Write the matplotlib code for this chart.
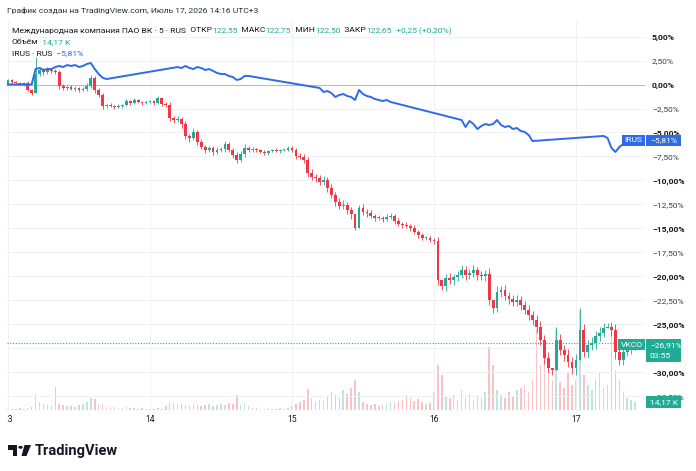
import numpy as np
import matplotlib.pyplot as plt
from matplotlib.patches import Rectangle, Polygon, Circle
from matplotlib.transforms import Bbox, blended_transform_factory

plt.rcParams['font.family'] = ['Roboto', 'DejaVu Sans']

W, H = 696, 471

# ---- данные (в % от начала графика) ----
day_labels = ['13', '14', '15', '16', '17']
bars_per_day = 36
main_session = (7, 25)   # бары основной сессии внутри дня (индекс IRUS)

vk_close = [
    # 13
    0.47, 0.26, 0.16, 0.05, 0.16, -0.57, -0.89, 1.10, 1.50, 1.30, 1.50, 1.40,
    1.30, -0.16, -0.36, -0.26, -0.47, -0.36, -0.57, -0.47, -0.16, 0.68, -0.57, -1.09,
    -2.24, -2.14, -2.24, -2.34, -2.24, -2.14, -1.72, -1.93, -1.61, -1.82, -1.93, -1.82,
    # 14
    -1.72, -1.93, -1.41, -2.03, -2.14, -3.49, -3.70, -3.59, -4.11, -5.36, -5.57, -4.95,
    -5.99, -6.51, -6.82, -6.61, -7.03, -6.82, -6.72, -6.20, -6.82, -7.34, -7.86, -7.24,
    -6.61, -6.82, -6.72, -6.82, -7.03, -7.14, -6.93, -6.82, -6.93, -6.82, -6.82, -6.61,
    # 15
    -6.82, -7.45, -7.55, -7.86, -9.22, -9.64, -9.74, -10.16, -9.95, -10.78, -11.51, -12.24,
    -12.66, -12.55, -13.07, -13.49, -14.95, -12.86, -13.28, -13.39, -13.70, -13.91, -13.91, -14.01,
    -13.80, -13.70, -14.22, -14.53, -14.64, -14.74, -14.95, -15.36, -15.68, -16.00, -16.00, -16.20,
    # 16
    -16.30, -20.36, -20.99, -20.16, -20.36, -20.05, -19.84, -19.32, -19.84, -19.64, -19.32, -19.84,
    -19.95, -19.74, -22.45, -23.28, -21.61, -21.41, -22.03, -22.34, -22.66, -22.45, -22.97, -23.49,
    -24.01, -24.53, -25.26, -26.61, -28.49, -29.53, -29.74, -26.61, -27.66, -28.18, -28.91, -29.53,
    # 17
    -28.70, -25.57, -27.86, -27.14, -26.93, -26.20, -25.89, -25.36, -25.26, -25.57, -27.86, -28.70,
    -27.86, -27.66, -27.34, -26.91,
]
vk_first_open = 0.0

# тени свечей: выше тела / ниже тела, %
vk_wick_up = [
    0.1, 0.1, 0.1, 0.1, 0.1, 0.2, 0.1, 0.3, 0.3, 0.2, 0.3, 0.2, 0.2, 0.2, 0.2, 0.1, 0.2, 0.2,
    0.1, 0.2, 0.3, 0.3, 0.2, 0.2, 0.2, 0.1, 0.2, 0.1, 0.2, 0.1, 0.2, 0.1, 0.2, 0.1, 0.1, 0.1,
    0.1, 0.1, 0.2, 0.1, 0.2, 0.3, 0.2, 0.3, 0.2, 0.3, 0.2, 0.4, 0.2, 0.3, 0.2, 0.2, 0.2, 0.3,
    0.2, 0.3, 0.2, 0.2, 0.3, 0.3, 0.4, 0.2, 0.2, 0.1, 0.1, 0.2, 0.1, 0.1, 0.2, 0.1, 0.1, 0.2,
    0.2, 0.2, 0.3, 0.3, 0.3, 0.4, 0.3, 0.3, 0.4, 0.3, 0.4, 0.3, 0.4, 0.5, 0.3, 0.3, 0.3, 0.3,
    0.4, 0.3, 0.3, 0.2, 0.3, 0.2, 0.3, 0.3, 0.2, 0.3, 0.2, 0.3, 0.2, 0.3, 0.2, 0.2, 0.2, 0.2,
    0.2, 0.4, 0.5, 0.4, 0.5, 0.3, 0.4, 0.5, 0.4, 0.4, 0.5, 0.3, 0.4, 0.4, 0.6, 0.5, 0.6, 0.4,
    0.5, 0.4, 0.4, 0.5, 0.4, 0.4, 0.5, 0.4, 0.5, 0.6, 0.5, 0.6, 0.5, 0.8, 0.6, 0.5, 0.6, 0.5,
    0.6, 0.8, 0.6, 0.5, 0.6, 0.5, 0.6, 0.5, 0.6, 0.5, 0.6, 0.5, 0.4, 0.5, 0.4, 0.3,
]
vk_wick_dn = [
    0.1, 0.2, 0.1, 0.1, 0.2, 0.1, 0.2, 0.2, 0.2, 0.3, 0.2, 0.2, 0.2, 0.3, 0.2, 0.2, 0.1, 0.2,
    0.2, 0.1, 0.2, 0.2, 0.3, 0.2, 0.3, 0.2, 0.1, 0.2, 0.1, 0.2, 0.1, 0.2, 0.1, 0.1, 0.2, 0.1,
    0.1, 0.2, 0.1, 0.2, 0.2, 0.3, 0.3, 0.2, 0.4, 0.3, 0.4, 0.2, 0.3, 0.2, 0.3, 0.2, 0.3, 0.2,
    0.2, 0.3, 0.2, 0.3, 0.3, 0.2, 0.3, 0.2, 0.2, 0.2, 0.1, 0.2, 0.2, 0.1, 0.1, 0.2, 0.1, 0.1,
    0.2, 0.3, 0.2, 0.3, 0.4, 0.3, 0.4, 0.3, 0.3, 0.4, 0.3, 0.4, 0.3, 0.3, 0.4, 0.5, 0.3, 0.3,
    0.3, 0.4, 0.2, 0.3, 0.2, 0.3, 0.2, 0.2, 0.3, 0.2, 0.3, 0.2, 0.3, 0.2, 0.3, 0.2, 0.2, 0.2,
    0.3, 0.5, 0.4, 0.5, 0.4, 0.5, 0.4, 0.3, 0.5, 0.4, 0.4, 0.5, 0.4, 0.5, 0.5, 0.6, 0.4, 0.5,
    0.4, 0.5, 0.4, 0.4, 0.5, 0.4, 0.5, 0.5, 0.6, 0.5, 0.6, 0.5, 0.6, 0.7, 0.5, 0.6, 0.5, 0.6,
    0.7, 0.6, 0.5, 0.6, 0.5, 0.6, 0.5, 0.4, 0.5, 0.6, 0.7, 0.5, 0.5, 0.4, 0.4, 0.3,
]
# отдельные длинные тени
vk_spike_bar = [7, 88, 89, 110, 123, 138, 139, 145, 152]
vk_spike_high = [2.86, -13.49, -12.55, -20.36, -22.45, -29.53, -25.26, -23.28, -24.84]
vk_spike_low = [-0.89, -15.16, -14.95, -21.40, -23.80, -30.30, -29.74, -28.70, -25.36]

vk_volume = [  # тыс.
    1.8, 1.8, 1.8, 3.5, 1.8, 3.5, 5.3, 28.3, 14.2, 10.6, 8.9, 7.1,
    40.7, 10.6, 8.9, 7.1, 7.1, 5.3, 8.9, 10.6, 14.2, 21.2, 19.5, 8.9,
    10.6, 5.3, 3.5, 5.3, 3.5, 3.5, 5.3, 3.5, 3.5, 1.8, 3.5, 1.8,
    1.8, 1.8, 3.5, 1.8, 7.1, 14.2, 12.4, 8.9, 10.6, 8.9, 7.1, 10.6,
    8.9, 7.1, 8.9, 10.6, 7.1, 8.9, 10.6, 8.9, 12.4, 10.6, 26.6, 8.9,
    12.4, 7.1, 3.5, 3.5, 1.8, 1.8, 3.5, 1.8, 1.8, 3.5, 1.8, 3.5,
    7.1, 10.6, 14.2, 17.7, 37.2, 21.2, 14.2, 17.7, 15.9, 24.8, 31.9, 26.6,
    21.2, 35.4, 28.3, 38.9, 53.1, 31.9, 14.2, 10.6, 8.9, 10.6, 7.1, 8.9,
    10.6, 14.2, 12.4, 15.9, 17.7, 26.6, 21.2, 15.9, 19.5, 14.2, 10.6, 12.4,
    31.9, 79.7, 62.0, 24.8, 21.2, 26.6, 17.7, 35.4, 21.2, 28.3, 17.7, 24.8,
    21.2, 31.9, 111.5, 79.7, 35.4, 26.6, 21.2, 31.9, 24.8, 35.4, 38.9, 44.3,
    31.9, 53.1, 143.4, 79.7, 90.3, 62.0, 53.1, 143.4, 49.6, 38.9, 67.3, 44.3,
    53.1, 177.0, 62.0, 44.3, 35.4, 53.1, 67.3, 38.9, 44.3, 138.0, 70.8, 53.1,
    31.9, 21.2, 17.7, 14.17,
]

irus_day13 = [1.61, 1.72, 1.51, 1.61, 1.61, 1.82, 1.93, 1.82, 2.03, 1.93, 2.03, 1.82, 1.93, 2.14, 2.24, 1.61, 1.09, 0.70, 0.57]
irus_day14 = [1.82, 1.72, 1.93, 1.72, 1.61, 1.82, 1.72, 1.51, 1.61, 1.41, 1.20, 1.09, 1.09, 0.89, 0.78, 0.47, 0.57, 0.89, 0.89]
irus_day15 = [-0.36, -0.78, -0.68, -0.89, -1.30, -1.09, -0.99, -1.20, -1.30, -1.61, -0.57, -0.99, -1.20, -1.30, -1.51, -1.61, -1.72, -1.61, -1.82]
irus_day16 = [-3.70, -4.43, -3.80, -4.11, -4.64, -4.32, -4.11, -4.22, -4.11, -3.70, -4.22, -4.43, -4.32, -4.64, -4.53, -4.84, -4.95, -5.26, -5.89]
irus_day17 = [-5.36, -5.57, -6.61, -7.03, -6.51, -6.20, -5.99, -5.89, -5.81]
irus_start = 0.0

last_vk = -26.91
last_irus = -5.81
last_volume = 14.17

GREEN = '#22ab94'
RED = '#f23645'
BLUE = '#2e6be6'
DARK = '#131722'
GRID = '#eef0f5'
FS = 6.1

# ---- подготовка ----
close = np.array(vk_close)
opens = np.r_[vk_first_open, close[:-1]]
x = np.arange(len(close))
up = close >= opens
candle_col = np.where(up, GREEN, RED)
high = np.maximum(opens, close) + np.array(vk_wick_up)
low = np.minimum(opens, close) - np.array(vk_wick_dn)
high[vk_spike_bar] = vk_spike_high
low[vk_spike_bar] = vk_spike_low

irus_x = [0, main_session[0] - 1]
irus_y = [irus_start, irus_start]
for d, vals in enumerate([irus_day13, irus_day14, irus_day15, irus_day16, irus_day17]):
    start = d * bars_per_day + main_session[0]
    irus_x += list(range(start, start + len(vals)))
    irus_y += vals

fig = plt.figure(figsize=(W / 100, H / 100), dpi=100)
rect = [7 / W, 1 - 410 / H, 638 / W, 390 / H]
xlim = (-0.25, 161.5)

# объём
axv = fig.add_axes(rect)
axv.set_xlim(*xlim)
axv.set_ylim(0, 690)
axv.axis('off')
axv.bar(x, vk_volume, width=0.4, color=candle_col, alpha=0.3, lw=0)

# цена
ax = fig.add_axes(rect)
ax.patch.set_visible(False)
ax.set_xlim(*xlim)
ax.set_ylim(-33.91, 6.72)
for s in ax.spines.values():
    s.set_visible(False)

yt = np.arange(5, -33, -2.5)
ax.set_yticks(yt)
ax.yaxis.tick_right()
ax.set_yticklabels(['' if v == -27.5 else f'{v:.2f}'.replace('.', ',').replace('-', '\u2212') + '%'
                    for v in yt])
ax.tick_params(axis='y', length=0, pad=5, labelsize=6.1, labelcolor=DARK)
for v, lbl in zip(yt, ax.get_yticklabels()):
    if v % 5 == 0:
        lbl.set_fontweight('bold')
    else:
        lbl.set_color('#3b3f4a')
ax.set_xticks([])
for v in yt:
    ax.axhline(v, color=GRID, lw=0.6, zorder=0)
for d in range(len(day_labels)):
    ax.axvline(d * bars_per_day, color=GRID, lw=0.6, zorder=0)

ax.axhline(0, color='#b8bbc4', lw=0.8, zorder=1)
ax.axhline(last_vk, color=GREEN, lw=0.8, ls=(0, (1, 1.5)), zorder=1)

# свечи
ax.vlines(x, low, high, colors=candle_col, lw=0.6, zorder=2)
ax.bar(x, np.maximum(np.abs(close - opens), 0.08), bottom=np.minimum(opens, close),
       width=0.7, color=candle_col, lw=0, zorder=2)

# IRUS
ax.plot(irus_x, irus_y, color=BLUE, lw=1.4, zorder=3, solid_joinstyle='round')

# подписи дней
tr = blended_transform_factory(ax.transData, fig.transFigure)
clip = Bbox.from_extents(7, 0, W, H)
for d, lab in enumerate(day_labels):
    t = ax.text(d * bars_per_day, 1 - 420 / H, lab, transform=tr, ha='center', va='center',
                fontsize=6.2, color=DARK)
    t.set_clip_on(True)
    t.set_clip_box(clip)


# ---- метки справа ----
def ypx(axis, v):
    return H - axis.transData.transform((0, v))[1]


def box(x0, y0, x1, y1, color):
    fig.add_artist(Rectangle((x0 / W, 1 - y1 / H), (x1 - x0) / W, (y1 - y0) / H,
                             transform=fig.transFigure, color=color, lw=0, zorder=5))


def label(xp, yp, s, ha='left', size=FS):
    fig.text(xp / W, 1 - yp / H, s, ha=ha, va='center', color='white', fontsize=size, zorder=6)


yc = ypx(ax, last_irus)
box(622, yc - 5.5, 645, yc + 5.5, BLUE)
box(646, yc - 5.5, 681, yc + 5.5, BLUE)
label(633.5, yc, 'IRUS', ha='center')
label(650, yc, '\u22125,81%')

yc = ypx(ax, last_vk)
box(618, yc - 4, 645, yc + 7.5, GREEN)
box(646, yc - 4, 681, yc + 19, GREEN)
label(631.5, yc + 1.7, 'VKCO', ha='center')
label(650, yc + 2, '\u221226,91%')
label(650, yc + 13, '03:55')

yc = ypx(axv, last_volume)
box(646, yc - 6, 681, yc + 6, GREEN)
label(650, yc, '14,17 K')

# ---- заголовок ----
renderer = fig.canvas.get_renderer()


def chain(xp, yp, pieces, size=FS):
    for s, c in pieces:
        t = fig.text(xp / W, 1 - yp / H, s, color=c, fontsize=size, ha='left', va='center_baseline')
        xp += t.get_window_extent(renderer).width


chain(7, 10, [('График создан на TradingView.com, Июль 17, 2026 14:16 UTC+3', '#2a2e39')])
chain(12, 30, [('Международная компания ПАО ВК · 5 · RUS', DARK), ('  ОТКР', DARK), ('122,55', GREEN),
               ('  МАКС', DARK), ('122,75', GREEN), ('  МИН', DARK), ('122,50', GREEN),
               ('  ЗАКР', DARK), ('122,65', GREEN), ('  +0,25 (+0,20%)', GREEN)])
chain(12, 42, [('Объём', DARK), ('  14,17 K', GREEN)])
chain(12, 53, [('IRUS · RUS', DARK), ('  \u22125,81%', BLUE)])


# ---- логотип ----
def P(pts):
    return [(px / W, 1 - py / H) for px, py in pts]


fig.add_artist(Polygon(P([(8, 445), (17, 445), (17, 456), (13, 456), (13, 449.5), (8, 449.5)]),
                       transform=fig.transFigure, color=DARK, lw=0))
fig.add_artist(Circle((20.5 / W, 1 - 447.3 / H), 2.2 / W, transform=fig.transFigure, color=DARK, lw=0))
fig.add_artist(Polygon(P([(24.5, 445), (31, 445), (26.5, 456), (21.5, 456)]),
                       transform=fig.transFigure, color=DARK, lw=0))
fig.text(35 / W, 1 - 451 / H, 'TradingView', fontsize=10.5, fontweight='bold', color=DARK,
         ha='left', va='center')

fig.savefig('out.png', dpi=100)
